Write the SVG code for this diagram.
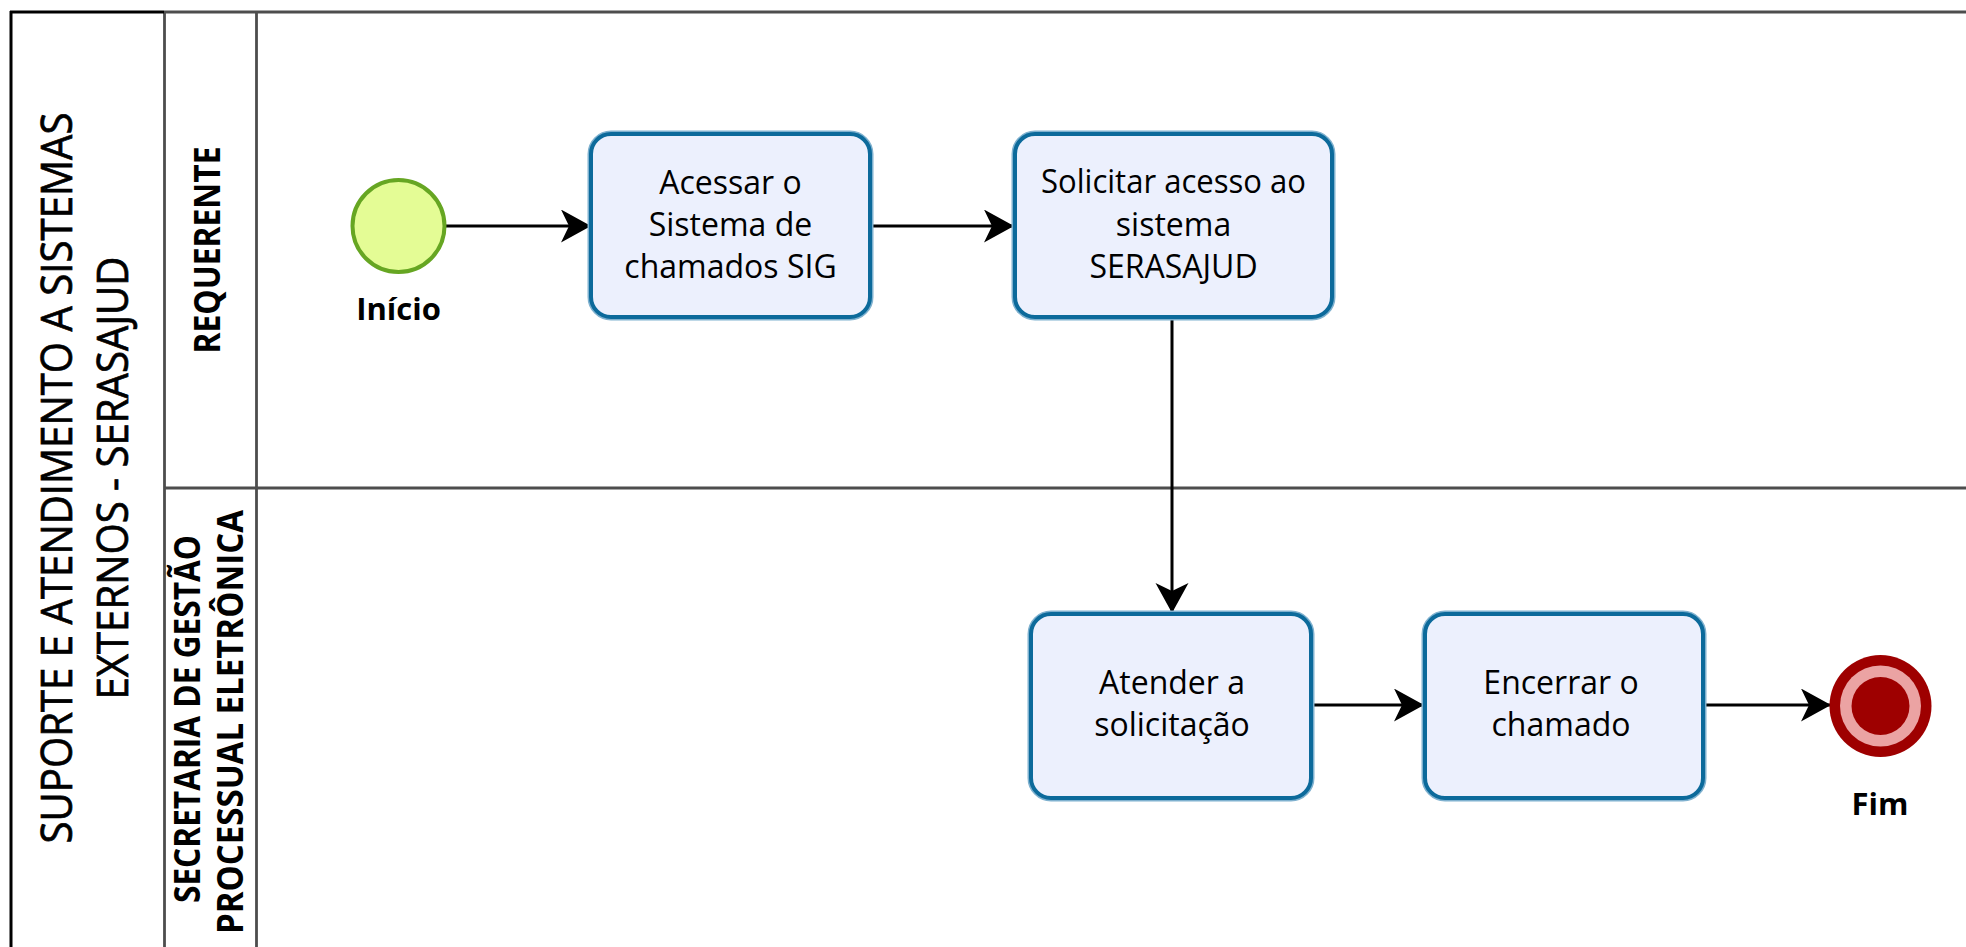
<svg xmlns="http://www.w3.org/2000/svg" width="1966" height="947" viewBox="0 0 1966 947">
<style>
.lane{stroke:#4d4d4d;stroke-width:2.8;fill:none}
.pool{stroke:#000000;stroke-width:3;fill:none}
.title{font-family:"Open Sans","Liberation Sans",sans-serif;font-size:44px;fill:#000;stroke:#000;stroke-width:0.7;text-anchor:middle}
.lbl{font-family:"Open Sans","Liberation Sans",sans-serif;font-size:36px;font-weight:bold;fill:#000;text-anchor:middle}
.task-out{fill:none;stroke:#7FB1CF;stroke-width:7}
.task{fill:#ECF0FD;stroke:#0C6A9B;stroke-width:4}
.tt{font-family:"Open Sans","Liberation Sans",sans-serif;font-size:32px;fill:#000;text-anchor:middle}
.ev{font-family:"Open Sans","Liberation Sans",sans-serif;font-size:31px;font-weight:bold;fill:#000;text-anchor:middle}
.flow{stroke:#000;stroke-width:3;fill:none;marker-end:url(#arr)}
</style>
<defs>
<marker id="arr" markerUnits="userSpaceOnUse" markerWidth="32" markerHeight="34" refX="30" refY="16.5" orient="auto">
<path d="M0,0 L30,16.5 L0,33 L8,16.5 Z" fill="#000"/>
</marker>
</defs>
<rect x="0" y="0" width="1966" height="947" fill="#ffffff"/>
<g id="pool">
<line class="lane" x1="164" y1="12" x2="1966" y2="12"/>
<line class="lane" x1="164.5" y1="12" x2="164.5" y2="947"/>
<line class="lane" x1="256.5" y1="12" x2="256.5" y2="947"/>
<line class="lane" x1="164" y1="488" x2="1966" y2="488"/>
<line class="pool" x1="10" y1="12" x2="164" y2="12"/>
<line class="pool" x1="11" y1="11" x2="11" y2="947"/>
<text class="title" transform="translate(72,478) rotate(-90)" textLength="731" lengthAdjust="spacingAndGlyphs">SUPORTE E ATENDIMENTO A SISTEMAS</text>
<text class="title" transform="translate(128,478) rotate(-90)" textLength="443" lengthAdjust="spacingAndGlyphs">EXTERNOS - SERASAJUD</text>
</g>
<g id="lane-requerente">
<text class="lbl" transform="translate(220,250) rotate(-90)" textLength="207" lengthAdjust="spacingAndGlyphs">REQUERENTE</text>
</g>
<g id="lane-secretaria">
<text class="lbl" transform="translate(200,719) rotate(-90)" textLength="368" lengthAdjust="spacingAndGlyphs">SECRETARIA DE GESTÃO</text>
<text class="lbl" transform="translate(243,722) rotate(-90)" textLength="424" lengthAdjust="spacingAndGlyphs">PROCESSUAL ELETRÔNICA</text>
</g>
<g id="connectors">
<line class="flow" x1="446" y1="226" x2="591" y2="226"/>
<line class="flow" x1="872" y1="226" x2="1014" y2="226"/>
<line class="flow" x1="1172" y1="319" x2="1172" y2="613"/>
<line class="flow" x1="1313" y1="705" x2="1424" y2="705"/>
<line class="flow" x1="1705" y1="705" x2="1831" y2="705"/>
</g>
<g id="start">
<circle cx="398.5" cy="226" r="46" fill="#E4FC95" stroke="#66A622" stroke-width="4"/>
<text class="ev" x="398.5" y="320">Início</text>
</g>
<g id="task1">
<rect class="task-out" x="591" y="134" width="279" height="183" rx="20"/>
<rect class="task" x="591" y="134" width="279" height="183" rx="20"/>
<text class="tt" x="730.5" y="194">Acessar o</text>
<text class="tt" x="730.5" y="236">Sistema de</text>
<text class="tt" x="730.5" y="278">chamados SIG</text>
</g>
<g id="task2">
<rect class="task-out" x="1015" y="134" width="317" height="183" rx="20"/>
<rect class="task" x="1015" y="134" width="317" height="183" rx="20"/>
<text class="tt" x="1173.5" y="193" textLength="265" lengthAdjust="spacingAndGlyphs">Solicitar acesso ao</text>
<text class="tt" x="1173.5" y="236">sistema</text>
<text class="tt" x="1173.5" y="278">SERASAJUD</text>
</g>
<g id="task3">
<rect class="task-out" x="1031" y="614" width="280" height="184" rx="20"/>
<rect class="task" x="1031" y="614" width="280" height="184" rx="20"/>
<text class="tt" x="1172" y="694">Atender a</text>
<text class="tt" x="1172" y="736">solicitação</text>
</g>
<g id="task4">
<rect class="task-out" x="1425" y="614" width="278" height="184" rx="20"/>
<rect class="task" x="1425" y="614" width="278" height="184" rx="20"/>
<text class="tt" x="1561" y="694">Encerrar o</text>
<text class="tt" x="1561" y="736">chamado</text>
</g>
<g id="end">
<circle cx="1880.5" cy="706" r="51" fill="#9E0000"/>
<circle cx="1880.5" cy="706" r="40.5" fill="#EBA3A3"/>
<circle cx="1880.5" cy="706" r="29" fill="#9E0000"/>
<text class="ev" x="1880" y="815">Fim</text>
</g>
</svg>
